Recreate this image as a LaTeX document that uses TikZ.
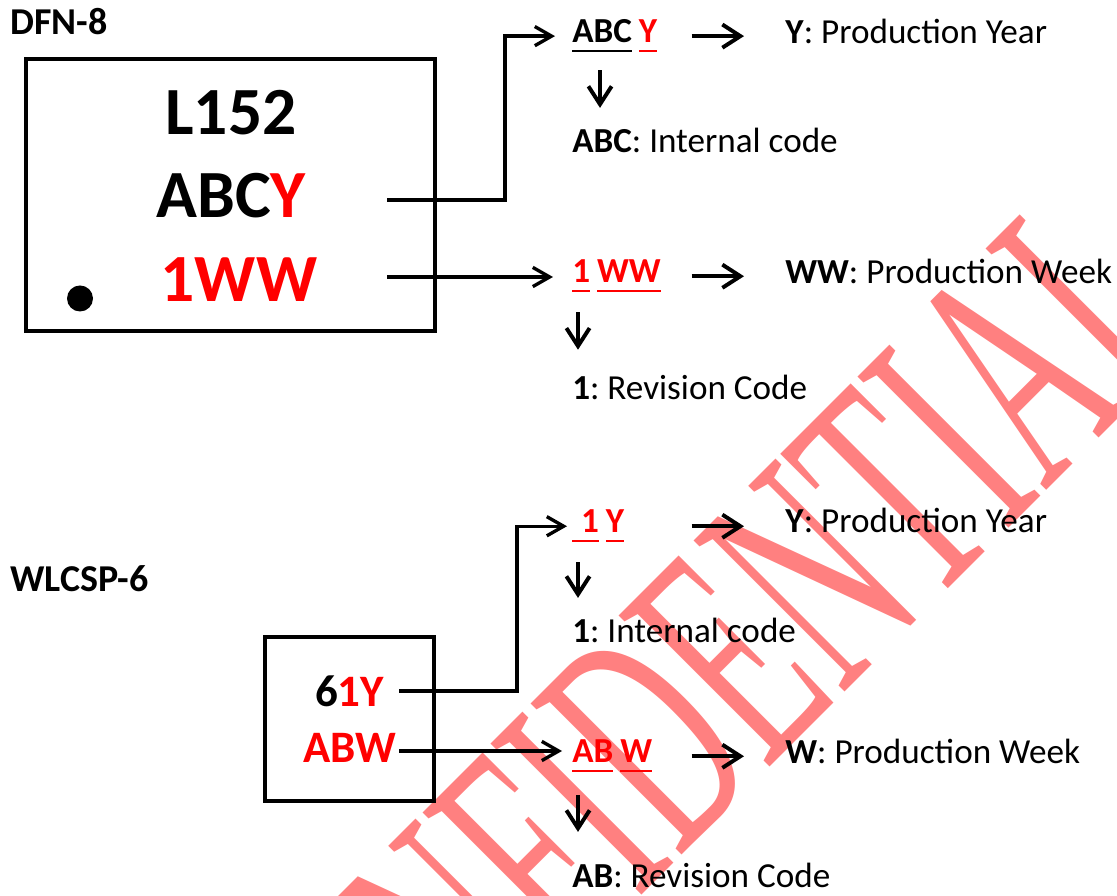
\documentclass[tikz,border=0pt]{standalone}
\usepackage{fontspec}
\setmainfont{Carlito}
\newfontfamily\wmfont{Liberation Serif}
\usepackage{xcolor}
\usepackage{graphicx}
\usepackage{tikz}
\usetikzlibrary{arrows.meta,positioning,calc}
\definecolor{markred}{RGB}{255,0,0}
\definecolor{wmpink}{RGB}{255,128,128}
\newsavebox{\ulbox}
\newcommand{\ulin}[1]{\sbox{\ulbox}{#1}\rlap{\rule[-0.265em]{\wd\ulbox}{0.07em}}\usebox{\ulbox}}
\newcommand{\ulgap}{\hspace{0.2em}}
\frenchspacing
\begin{document}
\begin{tikzpicture}[
    every node/.style={inner sep=0pt},
    pkg/.style={font=\fontsize{27}{32}\selectfont\bfseries, anchor=base west},
    chip/.style={draw, line width=2.85pt},
    bigmark/.style={font=\fontsize{48}{56}\selectfont\bfseries, anchor=base},
    smallmark/.style={font=\fontsize{32}{38}\selectfont\bfseries, anchor=base},
    code/.style={font=\fontsize{25}{30}\selectfont\bfseries, anchor=base west, text width=2.975cm, align=left},
    desc/.style={font=\fontsize{25}{30}\selectfont, anchor=base west},
    link/.style={line width=2.4pt, -{Straight Barb[length=0.42cm,width=0.48cm]}},
    arr/.style={line width=2.8pt, -{Straight Barb[length=0.45cm,width=0.58cm]}}
  ]
  \useasboundingbox (0,0) rectangle (27.925,22.375);

  % watermark behind everything
  \node[rotate=45, anchor=base west, text=wmpink, font=\wmfont\fontsize{232}{232}\selectfont] (wm) at (7.795,-8.26) {\scalebox{0.53}[1]{CONFIDENTIAL}};

  % DFN-8 package
  \node[pkg] (dfnlab) at (0.25,21.5) {DFN-8};
  \node[chip, minimum width=10.225cm, minimum height=6.8cm] (dfn) at (5.7625,17.5) {};
  \node[bigmark] (dfnA) at (5.775,19.0) {L152};
  \node[bigmark] (dfnB) at (5.775,16.925) {ABC\textcolor{markred}{Y}};
  \node[bigmark, text=markred] (dfnC) at (5.975,14.825) {1WW};
  \node[circle, fill, minimum size=0.65cm] (pin) at (2.0,14.9125) {};
  \coordinate (dfnY) at (9.675,17.375);
  \coordinate (dfnW) at (9.675,15.45);

  % WLCSP-6 package
  \node[pkg] (csplab) at (0.25,7.575) {WLCSP-6};
  \node[chip, minimum width=4.225cm, minimum height=4.1cm] (csp) at (8.7375,4.4) {};
  \node[smallmark] (cspA) at (8.7375,4.7) {6\textcolor{markred}{1Y}};
  \node[smallmark, text=markred] (cspB) at (8.7375,3.325) {ABW};
  \coordinate (cspY) at (9.975,5.1);
  \coordinate (cspW) at (9.975,3.6);

  % decoded fields
  \node[code] (code1) at (14.3,21.3) {\ulin{ABC}\ulgap\textcolor{markred}{\ulin{Y}}};
  \node[desc] (mean1) at (19.625,21.275) {\textbf{Y}: Production Year};
  \node[desc] (sub1) at (14.3,18.55) {\textbf{ABC}: Internal code};

  \node[code, text=markred] (code2) at (14.3,15.3) {\ulin{1}\ulgap\ulin{WW}};
  \node[desc] (mean2) at (19.625,15.275) {\textbf{WW}: Production Week};
  \node[desc] (sub2) at (14.3,12.375) {\textbf{1}: Revision Code};

  \node[code, text=markred] (code3) at (14.3,9.05) {\ulin{\hspace{0.25em}1}\ulgap\ulin{Y}};
  \node[desc] (mean3) at (19.625,9.05) {\textbf{Y}: Production Year};
  \node[desc] (sub3) at (14.3,6.3) {\textbf{1}: Internal code};

  \node[code, text=markred] (code4) at (14.3,3.3) {\ulin{AB}\ulgap\ulin{W}};
  \node[desc] (mean4) at (19.625,3.275) {\textbf{W}: Production Week};
  \node[desc] (sub4) at (14.3,0.2) {\textbf{AB}: Revision Code};

  \draw[link, shorten >=0.425cm] (dfnY) -- ++(2.95,0) |- (code1.west);
  \draw[link, shorten >=0.475cm] (dfnW) -- (dfnW -| code2.west);
  \draw[link, shorten >=0.125cm] (cspY) -- ++(2.95,0) |- (code3.west);
  \draw[link, shorten >=0.25cm] (cspW) -- (cspW -| code4.west);

  \foreach \r in {1,...,4}
    \draw[arr, shorten >=1.025cm] (code\r.east) -- (code\r.east -| mean\r.west);
  \foreach \r/\dx/\sa/\sb in {1/0.7/0.44/0.51,2/0.15/0.49/0.64,3/0.15/0.49/0.51,4/0.15/0.57/0.76}
    \draw[arr, shorten <=\sa cm, shorten >=\sb cm] ([xshift=\dx cm]code\r.south west) -- ([xshift=\dx cm]code\r.south west |- sub\r.north);
\end{tikzpicture}
\end{document}
